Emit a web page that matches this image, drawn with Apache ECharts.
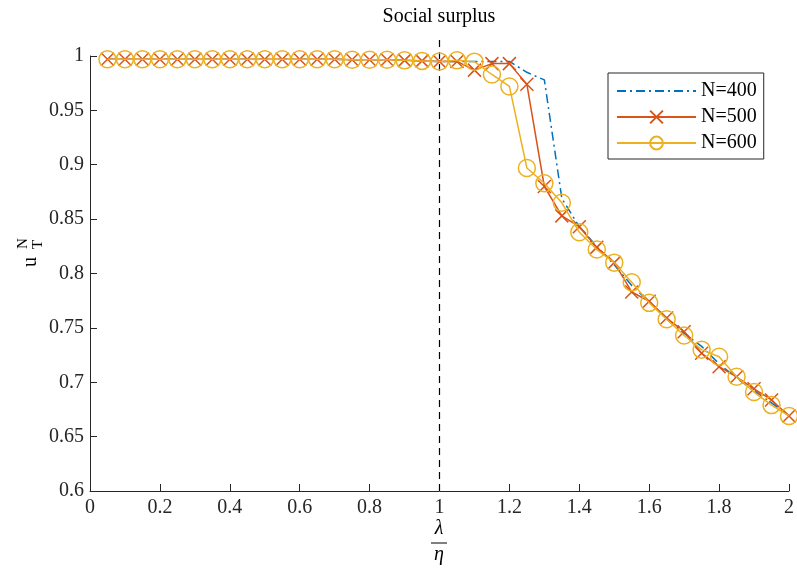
<!DOCTYPE html>
<html>
<head>
<meta charset="utf-8">
<script src="https://cdn.jsdelivr.net/npm/echarts@6/dist/echarts.min.js"></script>
<style>html,body{margin:0;padding:0;background:#fff}#c{width:797px;height:568px}</style>
</head>
<body>
<div id="c"></div>
<script>
var xVals = [0.05,0.1,0.15,0.2,0.25,0.3,0.35,0.4,0.45,0.5,0.55,0.6,0.65,0.7,0.75,0.8,0.85,0.9,0.95,1.0,
             1.05,1.1,1.15,1.2,1.25,1.3,1.35,1.4,1.45,1.5,1.55,1.6,1.65,1.7,1.75,1.8,1.85,1.9,1.95,2.0];
var n400 = [0.997,0.997,0.997,0.997,0.997,0.997,0.997,0.997,0.997,0.997,0.997,0.997,0.997,0.997,0.9965,0.9965,0.9965,0.996,0.9955,0.995,
            0.995,0.995,0.995,0.995,0.985,0.978,0.869,0.843,0.825,0.808,0.789,0.774,0.758,0.745,0.733,0.717,0.704,0.692,0.681,0.669];
var n500 = [0.997,0.997,0.997,0.997,0.997,0.997,0.997,0.997,0.997,0.997,0.997,0.997,0.997,0.997,0.9965,0.9965,0.9965,0.996,0.9955,0.995,
            0.995,0.987,0.993,0.993,0.974,0.880,0.853,0.843,0.824,0.810,0.783,0.7745,0.759,0.7465,0.7266,0.7143,0.705,0.694,0.6837,0.669];
var n600 = [0.997,0.997,0.997,0.997,0.997,0.997,0.997,0.997,0.997,0.997,0.997,0.997,0.997,0.997,0.9965,0.9965,0.9965,0.996,0.9955,0.995,
            0.996,0.9948,0.983,0.972,0.897,0.883,0.865,0.838,0.822,0.810,0.792,0.773,0.758,0.743,0.730,0.7235,0.705,0.691,0.679,0.669];
var seriesNames = ['N=400','N=500','N=600'];
var xTicks = [0,0.2,0.4,0.6,0.8,1,1.2,1.4,1.6,1.8,2];
var yTicks = [0.6,0.65,0.7,0.75,0.8,0.85,0.9,0.95,1];
var markX = [1, 1];
var markY = [0.6, 1.0175];

function pairs(xs, ys){ return xs.map(function(x,i){ return [x, ys[i]]; }); }
var axisCol = '#262626';
var serif = '"Liberation Serif","DejaVu Serif",serif';

var chart = echarts.init(document.getElementById('c'), null, {renderer:'canvas'});
chart.setOption({
  animation: false,
  backgroundColor: '#fff',
  grid: {left: 90, right: 8, top: 56, bottom: 77, containLabel: false},
  xAxis: {
    type: 'value', min: 0, max: 2, interval: 0.2,
    axisLine: {show: true, lineStyle: {color: axisCol, width: 1}},
    axisTick: {show: true, inside: true, length: 7, lineStyle: {color: axisCol}},
    splitLine: {show: false},
    axisLabel: {color: axisCol, fontFamily: serif, fontSize: 20, margin: 7,
      formatter: function(v){ return String(Math.round(v*10)/10); }}
  },
  yAxis: {
    type: 'value', min: 0.6, max: 1, interval: 0.05,
    axisLine: {show: true, lineStyle: {color: axisCol, width: 1}},
    axisTick: {show: true, inside: true, length: 7, lineStyle: {color: axisCol}},
    splitLine: {show: false},
    axisLabel: {color: axisCol, fontFamily: serif, fontSize: 20, margin: 6,
      formatter: function(v){ return String(Math.round(v*100)/100); }}
  },
  legend: {
    orient: 'vertical', left: 608, top: 73,
    padding: [8, 7, 6, 8], itemGap: 6,
    itemWidth: 79, itemHeight: 16,
    backgroundColor: '#fff', borderColor: axisCol, borderWidth: 1,
    textStyle: {fontFamily: serif, fontSize: 20, color: '#000'},
    data: seriesNames
  },
  series: [
    {
      name: '__mark', type: 'line', clip: false, silent: true, symbol: 'none',
      data: pairs(markX, markY),
      lineStyle: {color: '#000', width: 1.2, type: [7, 5]}, z: 1
    },
    {
      name: seriesNames[0], type: 'line', symbol: 'circle', symbolSize: 1, showSymbol: false,
      data: pairs(xVals, n400),
      color: '#0072BD',
      lineStyle: {color: '#0072BD', width: 1.5, type: [9, 4, 2, 4]},
      itemStyle: {color: 'none', borderWidth: 0, opacity: 0}, z: 2
    },
    {
      name: seriesNames[1], type: 'line',
      symbol: 'path://M0,0L10,10M10,0L0,10', symbolSize: 13,
      data: pairs(xVals, n500),
      color: '#D95319',
      lineStyle: {color: '#D95319', width: 1.5},
      itemStyle: {color: 'none', borderColor: '#D95319', borderWidth: 1.5}, z: 3
    },
    {
      name: seriesNames[2], type: 'line',
      symbol: 'circle', symbolSize: 17,
      data: pairs(xVals, n600),
      color: '#EDB120',
      lineStyle: {color: '#EDB120', width: 1.5},
      itemStyle: {color: 'none', borderColor: '#EDB120', borderWidth: 1.5}, z: 4
    }
  ],
  graphic: [
    {type: 'text', x: 439, y: 17, style: {text: 'Social surplus', fontFamily: serif, fontSize: 20, fill: '#000', align: 'center', verticalAlign: 'middle'}},
    {type: 'text', x: 439, y: 529, style: {text: 'λ', fontFamily: serif, fontStyle: 'italic', fontSize: 20, fill: '#000', align: 'center', verticalAlign: 'middle'}},
    {type: 'line', shape: {x1: 431, y1: 543, x2: 447, y2: 543}, style: {stroke: '#000', lineWidth: 1}},
    {type: 'text', x: 439, y: 555, style: {text: 'η', fontFamily: serif, fontStyle: 'italic', fontSize: 20, fill: '#000', align: 'center', verticalAlign: 'middle'}},
    {type: 'group', x: 31, y: 262, rotation: Math.PI/2, children: [
      {type: 'text', x: 0, y: 0, style: {text: 'u', fontFamily: serif, fontSize: 20, fill: '#000', align: 'center', verticalAlign: 'middle'}},
      {type: 'text', x: 13, y: -8, style: {text: 'N', fontFamily: serif, fontSize: 15, fill: '#000', align: 'left', verticalAlign: 'middle'}},
      {type: 'text', x: 13, y: 7, style: {text: 'T', fontFamily: serif, fontSize: 15, fill: '#000', align: 'left', verticalAlign: 'middle'}}
    ]}
  ]
});
</script>
</body>
</html>
